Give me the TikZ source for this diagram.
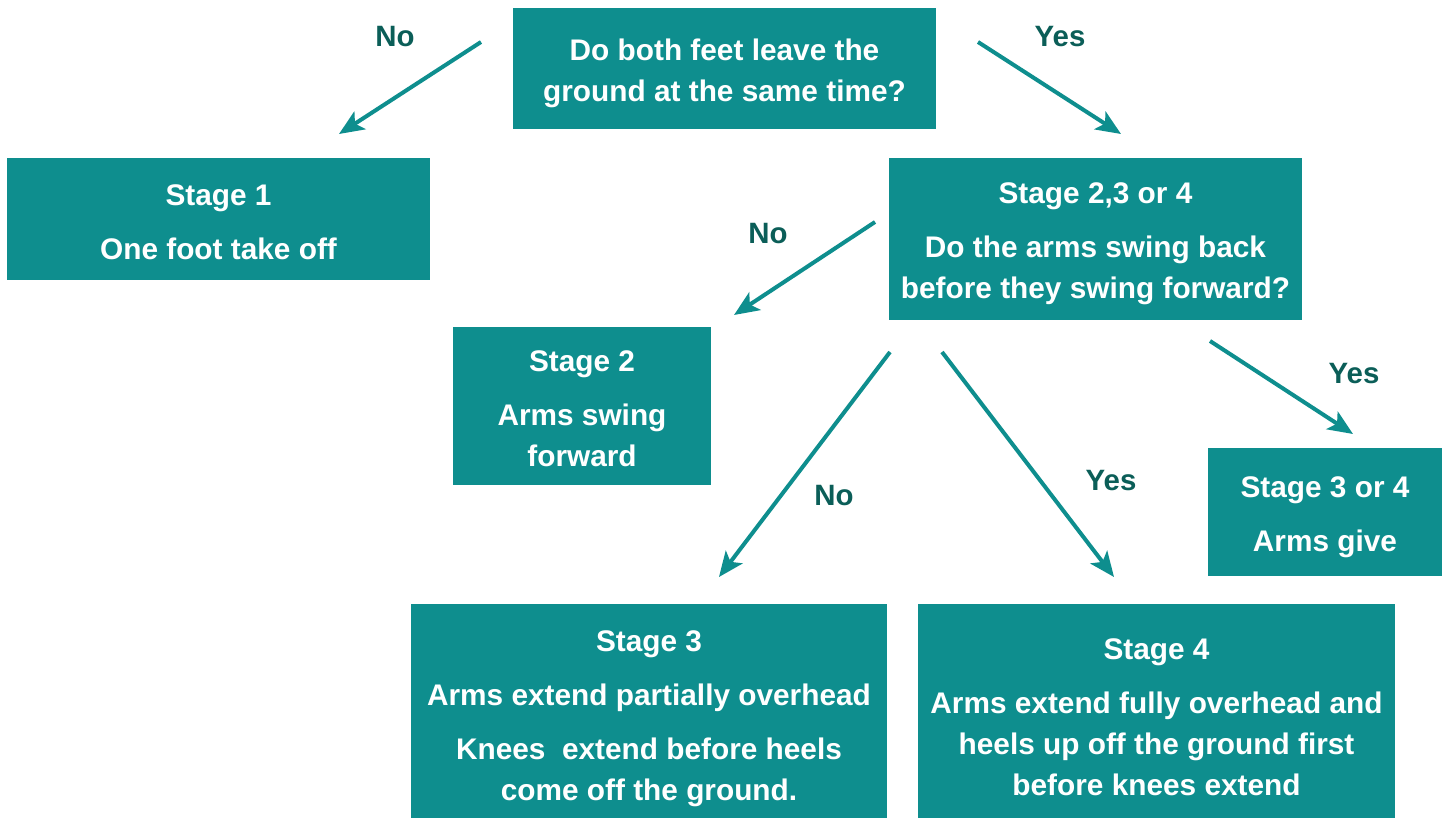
\documentclass[tikz,border=0pt]{standalone}
\usepackage{fontspec}
\setmainfont{Liberation Sans}
\usetikzlibrary{arrows.meta}
\definecolor{boxteal}{HTML}{0E8E8E}
\definecolor{labteal}{HTML}{0B5E58}
\tikzset{
  box/.style={fill=boxteal, inner sep=0pt},
  boxtext/.style={text=white, inner sep=0pt, align=center,
    font=\bfseries\fontsize{14.9}{20.5}\selectfont},
  lab/.style={text=labteal, inner sep=0pt, font=\bfseries\fontsize{14.7}{17}\selectfont},
  arr/.style={draw=boxteal, line width=2pt,
    -{Stealth[length=12.5pt,width=10.5pt,inset=3pt]}}
}
\begin{document}
\begin{tikzpicture}[x=0.5pt,y=-0.5pt]
\useasboundingbox (0,0) rectangle (1449,818);
\node[box, minimum width=211.5pt, minimum height=60.5pt] (q1) at (724.5,68.5) {};
\node[boxtext] (q1t) at ([yshift=-2.5pt]q1.center)
  {Do both feet leave the\\ground at the same time?};
\node[box, minimum width=211.5pt, minimum height=61pt] (s1) at (218.5,219) {};
\node[boxtext] (s1t) at ([yshift=-1.5pt]s1.center)
  {Stage 1\\[6.5pt]One foot take off};
\node[box, minimum width=206.5pt, minimum height=81pt] (q2) at (1095.5,239) {};
\node[boxtext] (q2t) at ([yshift=-2.5pt]q2.center)
  {Stage 2,3 or 4\\[6.5pt]Do the arms swing back\\before they swing forward?};
\node[box, minimum width=129pt, minimum height=79pt] (s2) at (582,406) {};
\node[boxtext] (s2t) at ([yshift=-1.5pt]s2.center)
  {Stage 2\\[6.5pt]Arms swing\\forward};
\node[box, minimum width=117pt, minimum height=64pt] (s34) at (1325,512) {};
\node[boxtext] (s34t) at ([yshift=-2.5pt]s34.center)
  {Stage 3 or 4\\[6.5pt]Arms give};
\node[box, minimum width=238pt, minimum height=107pt] (s3) at (649,711) {};
\node[boxtext] (s3t) at ([yshift=-4pt]s3.center)
  {Stage 3\\[6.5pt]Arms extend partially overhead\\[6.5pt]Knees\ \ extend before heels\\come off the ground.};
\node[box, minimum width=238.5pt, minimum height=107pt] (s4) at (1156.5,711) {};
\node[boxtext] (s4t) at ([yshift=-3pt]s4.center)
  {Stage 4\\[6.5pt]Arms extend fully overhead and\\heels up off the ground first\\before knees extend};

\coordinate (a1s) at (481,42);  \coordinate (a1e) at (339,134);
\coordinate (a2s) at (978,42);  \coordinate (a2e) at (1121,134);
\coordinate (a3s) at (875,222); \coordinate (a3e) at (734,315);
\coordinate (a4s) at (890,352); \coordinate (a4e) at (719,577);
\coordinate (a5s) at (942,352); \coordinate (a5e) at (1114,577);
\coordinate (a6s) at (1210,341);\coordinate (a6e) at (1353,434);
\draw[arr] (a1s) -- (a1e);
\draw[arr] (a2s) -- (a2e);
\draw[arr] (a3s) -- (a3e);
\draw[arr] (a4s) -- (a4e);
\draw[arr] (a5s) -- (a5e);
\draw[arr] (a6s) -- (a6e);

\node[lab] (l1) at (395,37) {No};
\node[lab] (l2) at (1060,37) {Yes};
\node[lab] (l3) at (768,234) {No};
\node[lab] (l4) at (834,496) {No};
\node[lab] (l5) at (1111,481) {Yes};
\node[lab] (l6) at (1354,374) {Yes};
\end{tikzpicture}
\end{document}
